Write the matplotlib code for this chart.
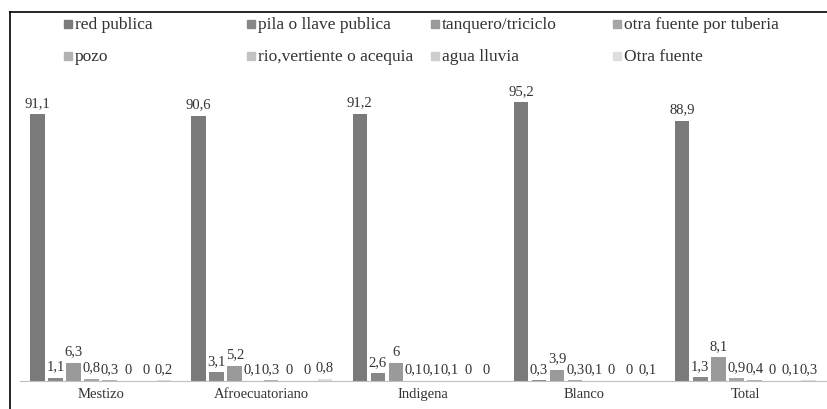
import matplotlib.pyplot as plt
from matplotlib.patches import Rectangle
from matplotlib.lines import Line2D
import numpy as np

# datos
categorias = ["Mestizo", "Afroecuatoriano", "Indigena", "Blanco", "Total"]
series = ["red publica", "pila o llave publica", "tanquero/triciclo", "otra fuente por tuberia",
          "pozo", "rio,vertiente o acequia", "agua lluvia", "Otra fuente"]
red_publica = [91.1, 90.6, 91.2, 95.2, 88.9]
pila = [1.1, 3.1, 2.6, 0.3, 1.3]
tanquero = [6.3, 5.2, 6, 3.9, 8.1]
otra_tuberia = [0.8, 0.1, 0.1, 0.3, 0.9]
pozo = [0.3, 0.3, 0.1, 0.1, 0.4]
rio = [0, 0, 0.1, 0, 0]
agua_lluvia = [0, 0, 0, 0, 0.1]
otra_fuente = [0.2, 0.8, 0, 0.1, 0.3]
valores = [red_publica, pila, tanquero, otra_tuberia, pozo, rio, agua_lluvia, otra_fuente]

colores = ["#7a7a7a", "#888888", "#9a9a9a", "#a6a6a6", "#b2b2b2", "#c2c2c2", "#cdcdcd", "#dedede"]

plt.rcParams['font.family'] = ['Liberation Serif', 'DejaVu Serif']

fig = plt.figure(figsize=(8.28, 4.09), dpi=100)
ax = fig.add_axes([20 / 828, 28 / 409, 806 / 828, 293 / 409])

x = np.arange(len(categorias))
paso = 0.112
ancho = 0.09
for i, (nombre, vals) in enumerate(zip(series, valores)):
    pos = x + (i - 3.5) * paso
    barras = ax.bar(pos, vals, width=ancho, color=colores[i], label=nombre)
    for b, v in zip(barras, vals):
        txt = ("%g" % v).replace(".", ",")
        ax.annotate(txt, (b.get_x() + b.get_width() / 2, v), xytext=(0, 3),
                    textcoords="offset points", ha="center", va="bottom",
                    fontsize=10.5, color="#333333")

ax.set_xlim(-0.5, 4.5)
ax.set_ylim(0, 100)
ax.set_xticks(x)
ax.set_xticklabels(categorias, fontsize=10.5, color="#333333")
ax.tick_params(axis="x", length=0, pad=5)
ax.set_yticks([])
for s in ["top", "left", "right"]:
    ax.spines[s].set_visible(False)
ax.spines["bottom"].set_color("#bfbfbf")

# leyenda manual
cols_x = [64, 247, 431, 613]
filas_y = [25, 57]
for i, nombre in enumerate(series):
    px = cols_x[i % 4]
    py = filas_y[i // 4]
    fig.patches.append(Rectangle((px / 828, 1 - (py + 3) / 409), 8 / 828, 8 / 409,
                                 transform=fig.transFigure, color=colores[i]))
    fig.text((px + 11) / 828, 1 - py / 409, nombre, fontsize=12.5, va="center",
             ha="left", color="#333333")

# marco
fig.add_artist(Line2D([10 / 828, 10 / 828], [-0.1, 1 - 12 / 409], transform=fig.transFigure,
                      color="black", lw=1.2))
fig.add_artist(Line2D([10 / 828, 1.1], [1 - 12 / 409, 1 - 12 / 409], transform=fig.transFigure,
                      color="black", lw=1.2))

fig.savefig("out.png", dpi=100)
